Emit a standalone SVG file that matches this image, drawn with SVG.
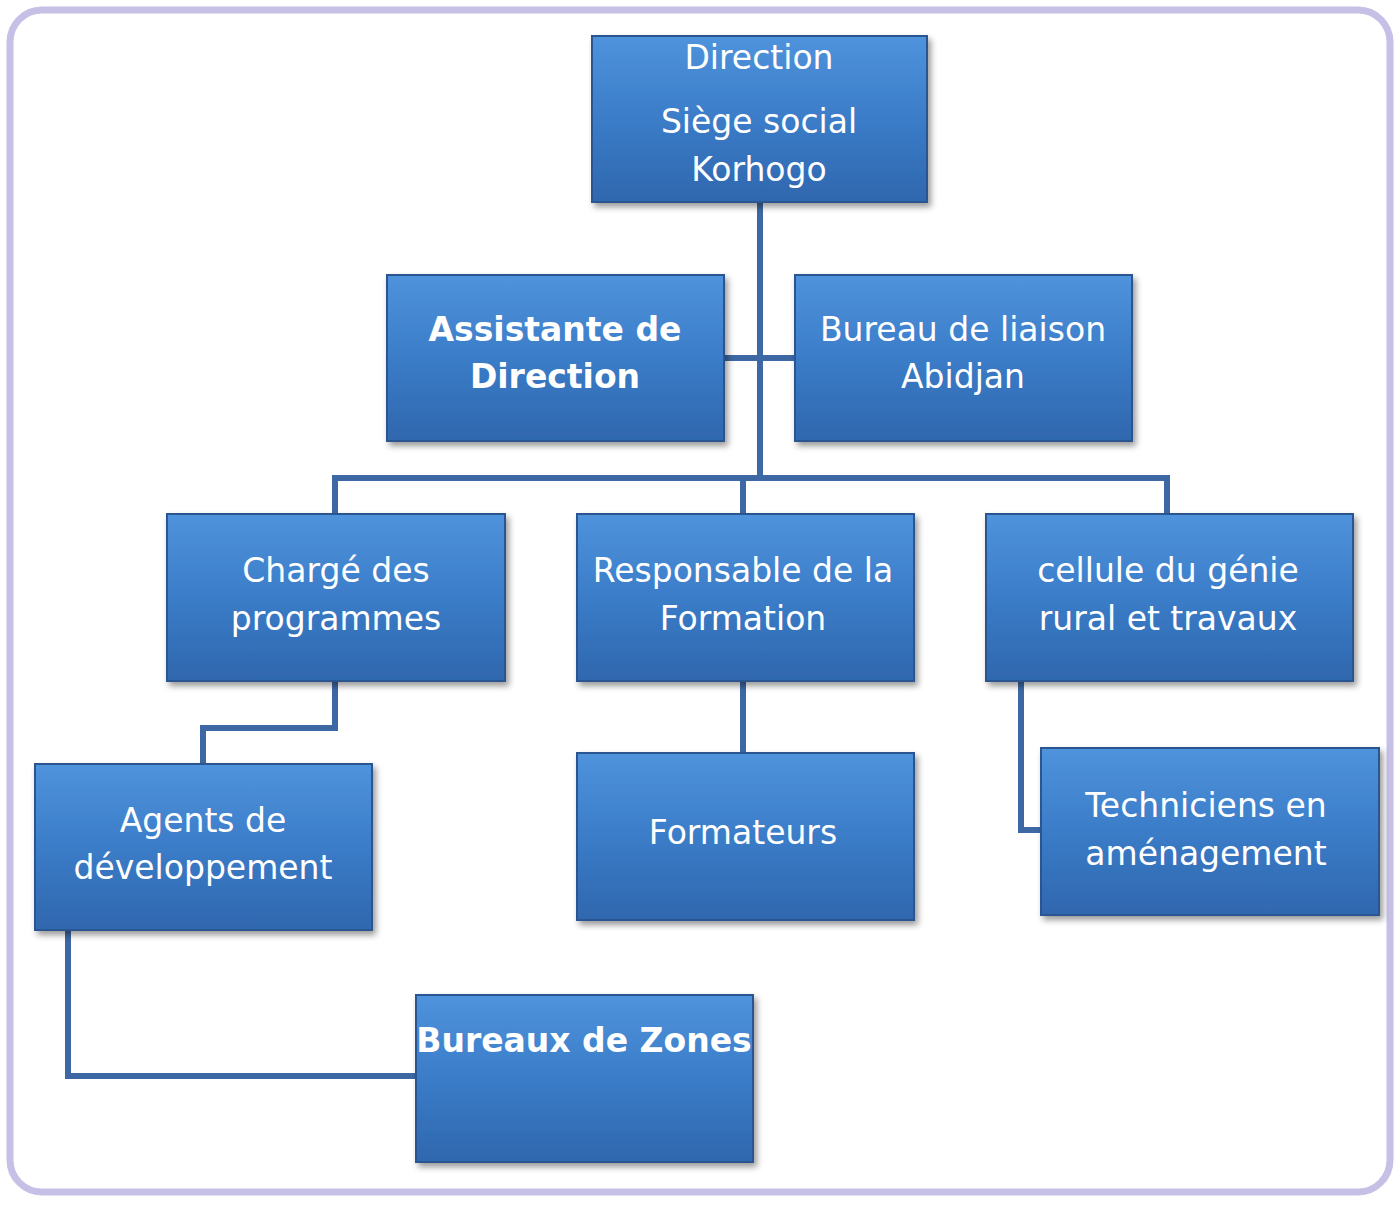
<svg xmlns="http://www.w3.org/2000/svg" width="1400" height="1210" viewBox="0 0 1400 1210">
<defs>
<linearGradient id="g" x1="0" y1="0" x2="0" y2="1">
<stop offset="0" stop-color="#4f93dc"/><stop offset="0.5" stop-color="#3b7cc8"/><stop offset="1" stop-color="#2f67ae"/>
</linearGradient>
<filter id="sh" x="-10%" y="-10%" width="130%" height="130%"><feDropShadow dx="3" dy="4" stdDeviation="3" flood-color="#000" flood-opacity="0.4"/></filter>
</defs>
<style>
.b{fill:url(#g);stroke:#2a5590;stroke-width:2;filter:url(#sh)}
.t{font-family:"DejaVu Sans",sans-serif;font-size:33px;fill:#fff;text-anchor:middle}
.bd{font-weight:bold}
.c{fill:none;stroke:#3d68a3;stroke-width:6}
</style>
<rect x="10" y="10" width="1380" height="1182" rx="32" fill="#fff" stroke="#c6bfe6" stroke-width="7"/>
<g id="connectors">
<path class="c" d="M760 202V478M724 358H795M335 514V478H1167V514M743 478V514M335 681V728H203V764M743 681V753M1021 681V830H1041M68 930V1076H416"/>
</g>
<g id="direction"><rect class="b" x="592" y="36" width="335" height="166"/><text class="t" x="759" y="69">Direction</text><text class="t" x="759" y="133">Siège social</text><text class="t" x="759" y="181">Korhogo</text></g>
<g id="assistante"><rect class="b" x="387" y="275" width="337" height="166"/><text class="t bd" x="555" y="341">Assistante de</text><text class="t bd" x="555" y="388">Direction</text></g>
<g id="bureau"><rect class="b" x="795" y="275" width="337" height="166"/><text class="t" x="963" y="341">Bureau de liaison</text><text class="t" x="963" y="388">Abidjan</text></g>
<g id="charge"><rect class="b" x="167" y="514" width="338" height="167"/><text class="t" x="336" y="582">Chargé des</text><text class="t" x="336" y="630">programmes</text></g>
<g id="responsable"><rect class="b" x="577" y="514" width="337" height="167"/><text class="t" x="743" y="582">Responsable de la</text><text class="t" x="743" y="630">Formation</text></g>
<g id="cellule"><rect class="b" x="986" y="514" width="367" height="167"/><text class="t" x="1168" y="582">cellule du  génie</text><text class="t" x="1168" y="630">rural et travaux</text></g>
<g id="agents"><rect class="b" x="35" y="764" width="337" height="166"/><text class="t" x="203" y="832">Agents de</text><text class="t" x="203" y="879">développement</text></g>
<g id="formateurs"><rect class="b" x="577" y="753" width="337" height="167"/><text class="t" x="743" y="844">Formateurs</text></g>
<g id="techniciens"><rect class="b" x="1041" y="748" width="338" height="167"/><text class="t" x="1206" y="817">Techniciens en</text><text class="t" x="1206" y="865">aménagement</text></g>
<g id="zones"><rect class="b" x="416" y="995" width="337" height="167"/><text class="t bd" x="584" y="1052">Bureaux de Zones</text></g>
</svg>
